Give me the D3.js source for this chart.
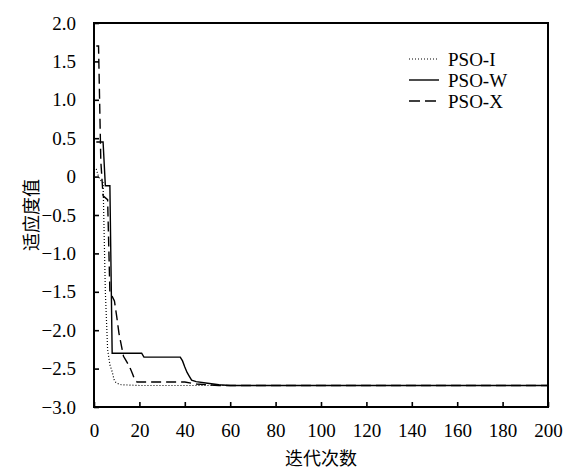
<!DOCTYPE html>
<html>
<head>
<meta charset="utf-8">
<script src="https://cdn.jsdelivr.net/npm/d3@7"></script>
<style>
  body { margin: 0; background: #fff; }
</style>
</head>
<body>
<div id="chart"></div>
<script>
"use strict";

// data (iteration, fitness)
var iIter = [1, 2, 3, 4, 5, 6, 7, 8, 9, 10, 12, 20, 200],
    iVal  = [0.1, 0.0, -0.05, -0.08, -1.5, -2.25, -2.45, -2.54, -2.66, -2.69, -2.71, -2.72, -2.72];
var wIter = [1, 4, 5, 7, 8, 21, 22, 38, 39, 40, 41, 42, 43, 45, 50, 55, 60, 200],
    wVal  = [0.45, 0.45, -0.12, -0.12, -2.3, -2.3, -2.35, -2.35, -2.4, -2.48, -2.55, -2.6, -2.65, -2.67, -2.69, -2.71, -2.72, -2.72];
var xIter = [1, 2, 3, 4, 6, 7, 8, 9, 10, 11, 12, 13, 14, 15, 16, 17, 18, 19, 40, 45, 55, 200],
    xVal  = [1.7, 1.7, 0.2, -0.25, -0.3, -1.5, -1.56, -1.62, -1.82, -2.04, -2.19, -2.34, -2.39, -2.44, -2.5, -2.57, -2.65, -2.675, -2.675, -2.7, -2.72, -2.72];
var seriesNames = ["PSO-I", "PSO-W", "PSO-X"];
var xTicks = [0, 20, 40, 60, 80, 100, 120, 140, 160, 180, 200],
    yTicks = [2.0, 1.5, 1.0, 0.5, 0, -0.5, -1.0, -1.5, -2.0, -2.5, -3.0];

var serif = "'Liberation Serif', 'Times New Roman', serif",
    cjk = "'Noto Sans CJK SC', sans-serif";

var w = 569, h = 472,
    m = {left: 94, top: 23, right: 21, bottom: 65},
    pw = w - m.left - m.right,
    ph = h - m.top - m.bottom;

var svg = d3.select("#chart").append("svg")
  .attr("width", w)
  .attr("height", h);

var x = d3.scaleLinear().domain([0, 200]).range([m.left, m.left + pw]);
var y = d3.scaleLinear().domain([-3, 2]).range([m.top + ph, m.top]);

function fmtY(d) {
  if (d === 0) return "0";
  return d3.format(".1f")(d).replace("-", "\u2212");
}

function styleAxis(g) {
  g.attr("font-family", serif).attr("font-size", 19);
  g.select(".domain").remove();
  g.selectAll("line").attr("stroke", "#000").attr("stroke-width", 1.6);
  g.selectAll("text").attr("fill", "#000");
}

// x axis, ticks pointing in
svg.append("g")
  .attr("transform", "translate(0," + (m.top + ph) + ")")
  .call(d3.axisBottom(x).tickValues(xTicks).tickSizeInner(-5).tickSizeOuter(0).tickPadding(17))
  .call(styleAxis);

// y axis
svg.append("g")
  .attr("transform", "translate(" + m.left + ",0)")
  .call(d3.axisLeft(y).tickValues(yTicks).tickFormat(fmtY).tickSizeInner(-5).tickSizeOuter(0).tickPadding(18))
  .call(styleAxis);

// frame
svg.append("rect")
  .attr("x", m.left).attr("y", m.top)
  .attr("width", pw).attr("height", ph)
  .attr("fill", "none").attr("stroke", "#000").attr("stroke-width", 2);

var line = d3.line()
  .x(function (d) { return x(d[0]); })
  .y(function (d) { return y(d[1]); });

var series = [
  {name: seriesNames[0], pts: d3.zip(iIter, iVal), dash: "1,2", width: 1.2},
  {name: seriesNames[1], pts: d3.zip(wIter, wVal), dash: null, width: 1.4},
  {name: seriesNames[2], pts: d3.zip(xIter, xVal), dash: "10,5", width: 1.4}
];

svg.selectAll("path.curve")
  .data(series)
  .enter()
  .append("path")
    .attr("class", "curve")
    .attr("d", function (d) { return line(d.pts); })
    .attr("fill", "none")
    .attr("stroke", "#000")
    .attr("stroke-width", function (d) { return d.width; })
    .attr("stroke-dasharray", function (d) { return d.dash; });

// legend
var lg = svg.append("g").attr("font-family", serif).attr("font-size", 19);
series.forEach(function (s, i) {
  var ly = 59 + i * 21;
  lg.append("line")
    .attr("x1", 409).attr("x2", 439)
    .attr("y1", ly).attr("y2", ly)
    .attr("stroke", "#000")
    .attr("stroke-width", s.width)
    .attr("stroke-dasharray", s.dash === "10,5" ? "11,5" : s.dash);
  lg.append("text")
    .attr("x", 448).attr("y", ly + 6.5)
    .text(s.name);
});

// axis titles
svg.append("text")
  .attr("x", m.left + pw / 2).attr("y", 465)
  .attr("text-anchor", "middle")
  .attr("font-family", cjk).attr("font-size", 18)
  .text("迭代次数");

svg.append("text")
  .attr("transform", "translate(38," + (m.top + ph / 2) + ") rotate(-90)")
  .attr("text-anchor", "middle")
  .attr("font-family", cjk).attr("font-size", 18)
  .text("适应度值");
</script>
</body>
</html>
